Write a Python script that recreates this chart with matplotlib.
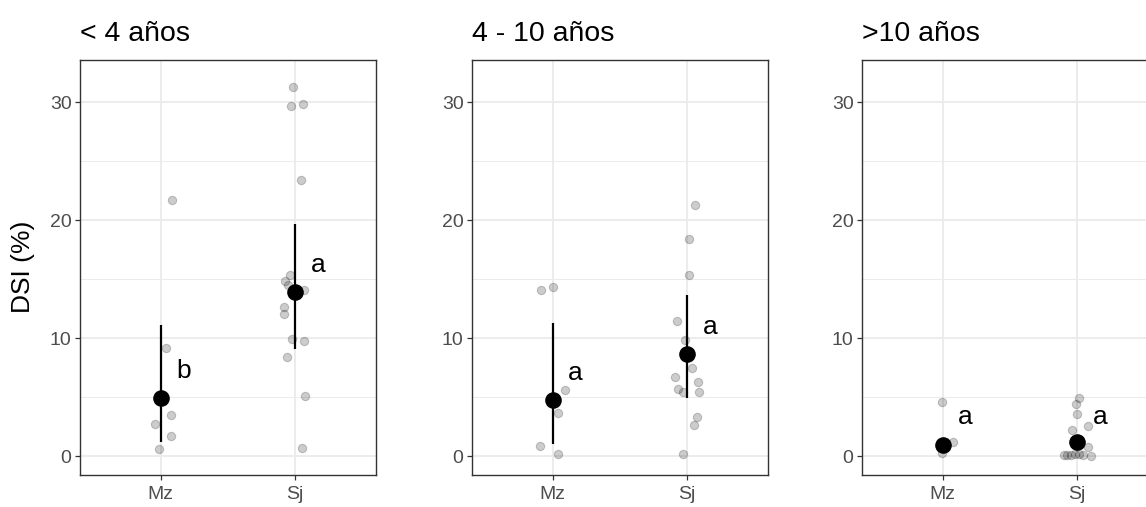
import matplotlib
matplotlib.use("Agg")
import matplotlib.pyplot as plt
from matplotlib.ticker import MultipleLocator

plt.rcParams['font.family'] = ['Liberation Sans', 'DejaVu Sans']

groups = ["Mz", "Sj"]
panel_titles = ["< 4 años", "4 - 10 años", ">10 años"]

# raw DSI values per panel and group, with the horizontal jitter
raw_vals = [
    {"Mz": [21.75, 9.21, 3.45, 2.71, 1.72, 0.62],
     "Sj": [31.33, 29.69, 29.89, 23.45, 15.40, 14.85, 14.5, 14.12, 12.65, 12.09,
            9.97, 9.77, 8.42, 5.06, 0.65]},
    {"Mz": [14.10, 14.38, 5.62, 3.64, 0.85, 0.14],
     "Sj": [21.33, 18.39, 15.37, 11.50, 9.89, 7.51, 6.75, 6.30, 5.73, 5.42, 5.40,
            3.31, 2.68, 0.17]},
    {"Mz": [4.60, 1.24, 0.23],
     "Sj": [4.97, 4.38, 3.56, 2.57, 2.18, 0.74, 0.0, 0.1, 0.08, 0.12, 0.15,
            0.18, 0.1]},
]
jitter = [
    {"Mz": [0.087, 0.04, 0.074, -0.045, 0.079, -0.01],
     "Sj": [-0.02, -0.035, 0.055, 0.045, -0.042, -0.074, -0.054, 0.065, -0.087,
            -0.087, -0.028, 0.067, -0.06, 0.069, 0.047]},
    {"Mz": [-0.087, 0.002, 0.094, 0.037, -0.092, 0.042],
     "Sj": [0.055, 0.01, 0.01, -0.079, -0.02, 0.037, -0.089, 0.079, -0.069,
            -0.032, 0.084, 0.074, 0.05, -0.032]},
    {"Mz": [-0.005, 0.074, -0.005],
     "Sj": [0.012, -0.01, -0.003, 0.079, -0.042, 0.082, 0.099, -0.1, -0.074,
            -0.045, -0.02, 0.012, 0.045]},
]

# estimated means and intervals
means = [[4.94, 13.93], [4.80, 8.70], [0.93, 1.16]]
lower = [[1.21, 9.12], [0.99, 4.89], [0.45, 0.65]]
upper = [[11.16, 19.70], [11.33, 13.67], [1.45, 1.70]]

# significance letters and where they sit
letters = [["b", "a"], ["a", "a"], ["a", "a"]]
letter_y = [[7.23, 16.2], [7.06, 10.96], [3.28, 3.33]]

fig = plt.figure(figsize=(11.46, 5.07), dpi=100)

W, H = 1146, 507
lefts = [80, 472, 862]
ax_w, ax_top, ax_bot = 296, 60, 475

for i, title in enumerate(panel_titles):
    ax = fig.add_axes([lefts[i] / W, 1 - ax_bot / H, ax_w / W, (ax_bot - ax_top) / H])
    ax.set_xlim(0.4, 2.6)
    ax.set_ylim(-1.6, 33.6)
    ax.set_axisbelow(True)
    ax.yaxis.set_major_locator(MultipleLocator(10))
    ax.yaxis.set_minor_locator(MultipleLocator(5))
    ax.set_xticks([1, 2])
    ax.set_xticklabels(groups)
    ax.grid(True, which='major', color='#EBEBEB', lw=1.3)
    ax.grid(True, which='minor', axis='y', color='#EBEBEB', lw=0.7)
    ax.tick_params(which='minor', length=0)
    ax.tick_params(which='major', length=3.6, width=0.9, color='#333333',
                   labelcolor='#4D4D4D', labelsize=14)
    ax.tick_params(axis='y', pad=2.5)
    ax.tick_params(axis='x', pad=4)
    for sp in ax.spines.values():
        sp.set_color('#333333')
        sp.set_linewidth(1.0)

    for j, g in enumerate(groups):
        xs = [j + 1 + d for d in jitter[i][g]]
        ax.scatter(xs, raw_vals[i][g], s=36, c='black', alpha=0.2,
                   edgecolors='black', linewidths=0.8, zorder=2)
        ax.plot([j + 1, j + 1], [lower[i][j], upper[i][j]], color='black',
                lw=1.6, zorder=3, solid_capstyle='butt')
        ax.scatter([j + 1], [means[i][j]], s=120, c='black', zorder=4)
        ax.text(j + 1.17, letter_y[i][j], letters[i][j], fontsize=19,
                ha='center', va='center', color='black', zorder=5)

    ax.set_title(title, loc='left', fontsize=20.5, pad=14)

fig.text(23 / W, 1 - 267 / H, "DSI (%)", rotation=90, fontsize=19,
         ha='center', va='center')

fig.savefig("out.png", dpi=100)
